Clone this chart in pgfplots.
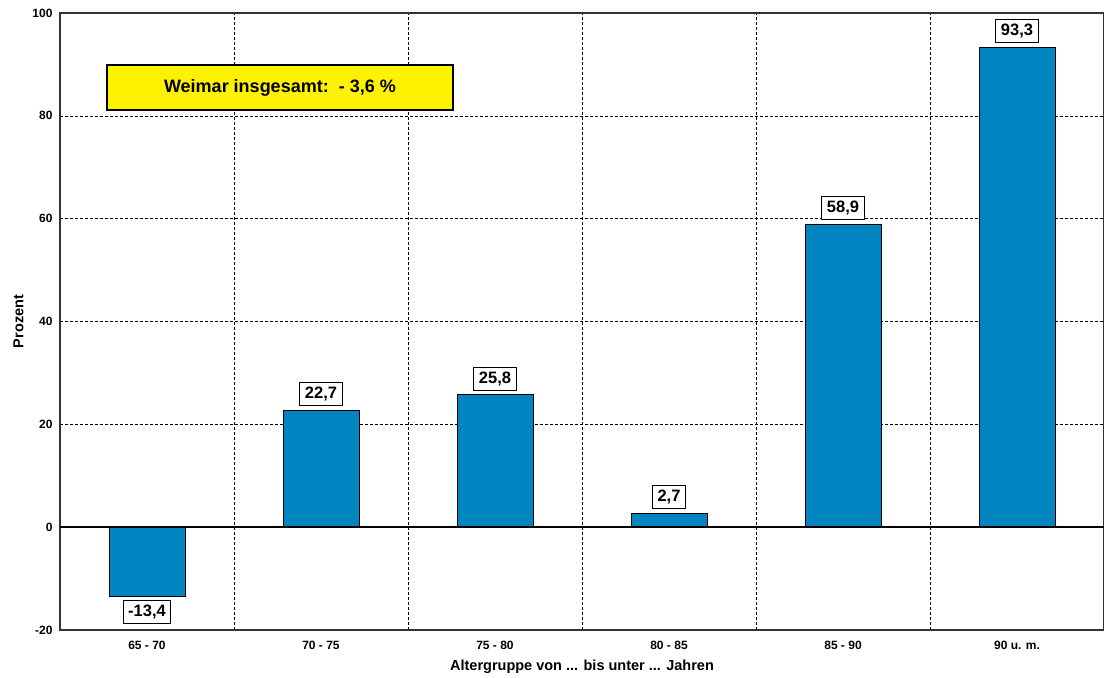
\documentclass[border=0pt]{standalone}
\usepackage{fontspec}
\setmainfont{Liberation Sans}
\usepackage{pgfplots}
\pgfplotsset{compat=1.18}
\definecolor{barblue}{RGB}{0,133,192}
\begin{document}
\begin{tikzpicture}
\begin{axis}[
  scale only axis, width=1044pt, height=617pt,
  xmin=-0.5, xmax=5.5, ymin=-20, ymax=100,
  ytick={-20,0,20,40,60,80,100},
  xtick={0,1,2,3,4,5},
  xticklabels={65 - 70, 70 - 75, 75 - 80, 80 - 85, 85 - 90, 90 u. m.},
  minor xtick={0.5,1.5,2.5,3.5,4.5},
  xminorgrids, ymajorgrids,
  major grid style={black, line width=0.5pt, dash pattern=on 3pt off 2pt},
  minor grid style={black, line width=0.5pt, dash pattern=on 3pt off 2pt},
  major tick length=0pt, minor tick length=0pt,
  axis line style={line width=1.2pt, black!80},
  tick label style={font=\fontsize{12}{14}\selectfont\bfseries},
  /pgf/number format/assume math mode=true,
  yticklabel style={xshift=-4pt},
  xticklabel style={yshift=-8pt},
  xlabel={Altergruppe von ... bis unter ... Jahren},
  ylabel={Prozent},
  xlabel style={font=\fontsize{14.5}{16}\selectfont\bfseries, yshift=-3pt},
  ylabel style={font=\fontsize{14.5}{16}\selectfont\bfseries, yshift=2pt},
  every node near coord/.append style={draw=black, fill=white, line width=1pt,
     font=\fontsize{16.5}{18}\selectfont\bfseries, inner xsep=5pt, inner ysep=4pt,
     text height=12pt, text depth=3pt},
  nodes near coords={\pgfmathprintnumber[fixed, fixed zerofill, precision=1, use comma, assume math mode=true]{\pgfplotspointmeta}},
]
\addplot[ybar, bar width=76pt, bar shift=0pt, fill=barblue, draw=black, line width=0.8pt,
  nodes near coords style={anchor=south, yshift=4pt}]
  coordinates {(1,22.7) (2,25.8) (3,2.7) (4,58.9) (5,93.3)};
\addplot[ybar, bar width=76pt, bar shift=0pt, fill=barblue, draw=black, line width=0.8pt,
  nodes near coords style={anchor=north, yshift=-4pt}]
  coordinates {(0,-13.4)};
\draw[line width=2pt, black] (axis cs:-0.5,0) -- (axis cs:5.5,0);
\node[draw=black, fill=yellow, line width=1.2pt, minimum width=346pt, minimum height=45pt,
  inner sep=0pt, font=\fontsize{18}{20}\selectfont\bfseries]
  at (axis cs:0.764,85.5) {Weimar insgesamt:\ \ - 3,6 \%};
\end{axis}
\pgfresetboundingbox
\path[use as bounding box] ([xshift=-60pt,yshift=-47pt]current axis.south west) rectangle ([yshift=13pt]current axis.north east);
\end{tikzpicture}
\end{document}
